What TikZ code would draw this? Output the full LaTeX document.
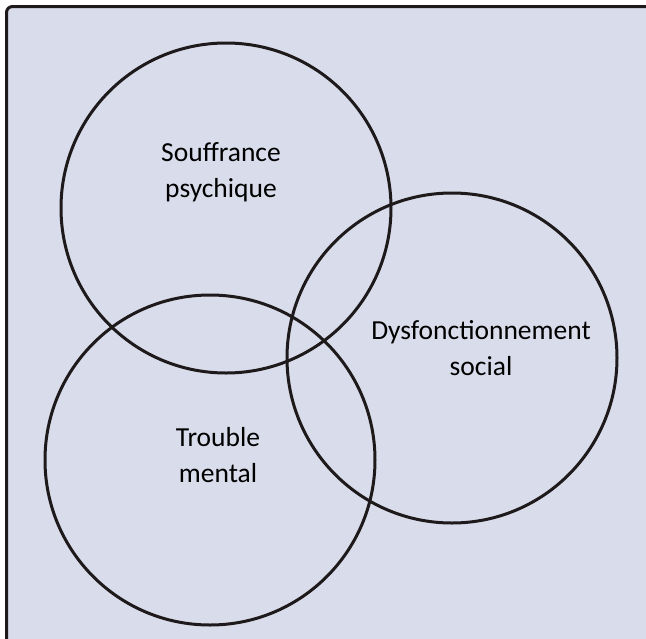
\documentclass[tikz,border=0pt]{standalone}
\usepackage{fontspec}
\setmainfont{Carlito}
\definecolor{panel}{HTML}{D9DCEA}
\definecolor{ink}{HTML}{1E1A1B}

\begin{document}
\begin{tikzpicture}[x=1pt,y=-1pt]
            \tikzset{ring/.style={draw=ink,line width=3pt,circle,minimum size=330pt,inner sep=0pt},
                     lbl/.style={align=center,font=\fontsize{27.5}{36}\selectfont,text=black}}
            \useasboundingbox (0,0) rectangle (646,638);
            \clip (0,0) rectangle (646,638);
            \draw[ink,fill=panel,line width=3pt,rounded corners=6pt] (6.5,6.5) rectangle (680,680);
            \node[ring] (souf) at (226,208) {};
            \node[ring] (trou) at (210,460) {};
            \node[ring] (dysf) at (452,358) {};
            \node[lbl] (soufl) at (221,172) {Souffrance\\psychique};
            \node[lbl] (dysfl) at (481,348) {Dysfonctionnement\\social};
            \node[lbl] (troul) at (218,455) {Trouble\\mental};
        \end{tikzpicture}
\end{document}
